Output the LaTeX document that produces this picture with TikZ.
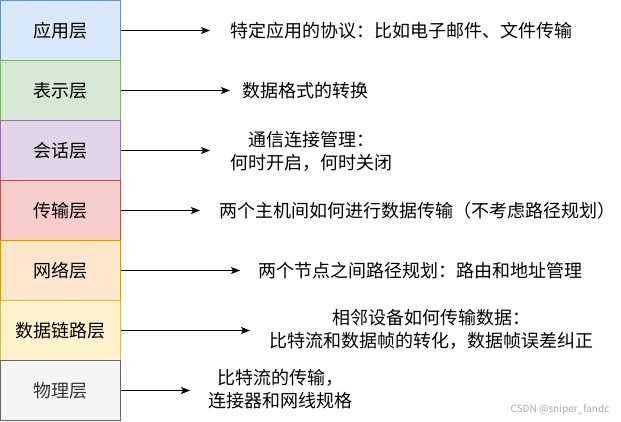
\documentclass[tikz,border=0pt]{standalone}
\usepackage{fontspec}
\setmainfont{Noto Sans CJK SC}
\usetikzlibrary{arrows.meta}
\definecolor{f1}{HTML}{DAE8FC}\definecolor{d1}{HTML}{6C8EBF}
\definecolor{f2}{HTML}{D5E8D4}\definecolor{d2}{HTML}{82B366}
\definecolor{f3}{HTML}{E1D5E7}\definecolor{d3}{HTML}{9673A6}
\definecolor{f4}{HTML}{F8CECC}\definecolor{d4}{HTML}{B85450}
\definecolor{f5}{HTML}{FFE6CC}\definecolor{d5}{HTML}{D79B00}
\definecolor{f6}{HTML}{FFF2CC}\definecolor{d6}{HTML}{D6B656}
\definecolor{f7}{HTML}{F5F5F5}\definecolor{d7}{HTML}{666666}
\definecolor{t7}{HTML}{333333}
\definecolor{wm}{HTML}{A8A8A8}
\begin{document}
\begin{tikzpicture}[x=1pt,y=-1pt,
  layer/.style={draw, line width=1pt, minimum width=120pt, minimum height=60pt, inner sep=0pt,
    font=\fontsize{18}{22}\selectfont},
  desc/.style={align=center, inner sep=0pt, font=\fontsize{18}{23}\selectfont},
  arr/.style={line width=1pt, -{Stealth[length=9pt,width=7pt,inset=2pt]}}]
\useasboundingbox (0,0) rectangle (621,421);
\node[layer, fill=f1, draw=d1] (l1) at (60.5,30.5) {应用层};
\node[layer, fill=f2, draw=d2] (l2) at (60.5,90.5) {表示层};
\node[layer, fill=f3, draw=d3] (l3) at (60.5,150.5) {会话层};
\node[layer, fill=f4, draw=d4] (l4) at (60.5,210.5) {传输层};
\node[layer, fill=f5, draw=d5] (l5) at (60.5,270.5) {网络层};
\node[layer, fill=f6, draw=d6] (l6) at (60.5,330.5) {数据链路层};
\node[layer, fill=f7, draw=d7, text=t7] (l7) at (60.5,390.5) {物理层};

\coordinate (a1) at (210,30.5);
\coordinate (a2) at (230,90.5);
\coordinate (a3) at (210,150.5);
\coordinate (a4) at (200,210.5);
\coordinate (a5) at (240,270.5);
\coordinate (a6) at (250,330.5);
\coordinate (a7) at (190,390.5);

\draw[arr] (l1.east) -- (a1);
\draw[arr] (l2.east) -- (a2);
\draw[arr] (l3.east) -- (a3);
\draw[arr] (l4.east) -- (a4);
\draw[arr] (l5.east) -- (a5);
\draw[arr] (l6.east) -- (a6);
\draw[arr] (l7.east) -- (a7);

\node[desc] (t1) at (401,30.5) {特定应用的协议：比如电子邮件、文件传输};
\node[desc] (t2) at (305,90.5) {数据格式的转换};
\node[desc] (t3) at (311,151.5) {通信连接管理：\\何时开启，何时关闭};
\node[desc] (t4) at (417,210.5) {两个主机间如何进行数据传输（不考虑路径规划）};
\node[desc] (t5) at (420,270.5) {两个节点之间路径规划：路由和地址管理};
\node[desc] (t6) at (431.5,329.5) {相邻设备如何传输数据：\\比特流和数据帧的转化，数据帧误差纠正};
\node[desc] (t7) at (280,389.5) {比特流的传输，\\连接器和网线规格};
\node[text=wm, inner sep=0pt, font=\fontsize{10}{12}\selectfont] (wm) at (560,410) {CSDN @sniper\_fandc};
\end{tikzpicture}
\end{document}
